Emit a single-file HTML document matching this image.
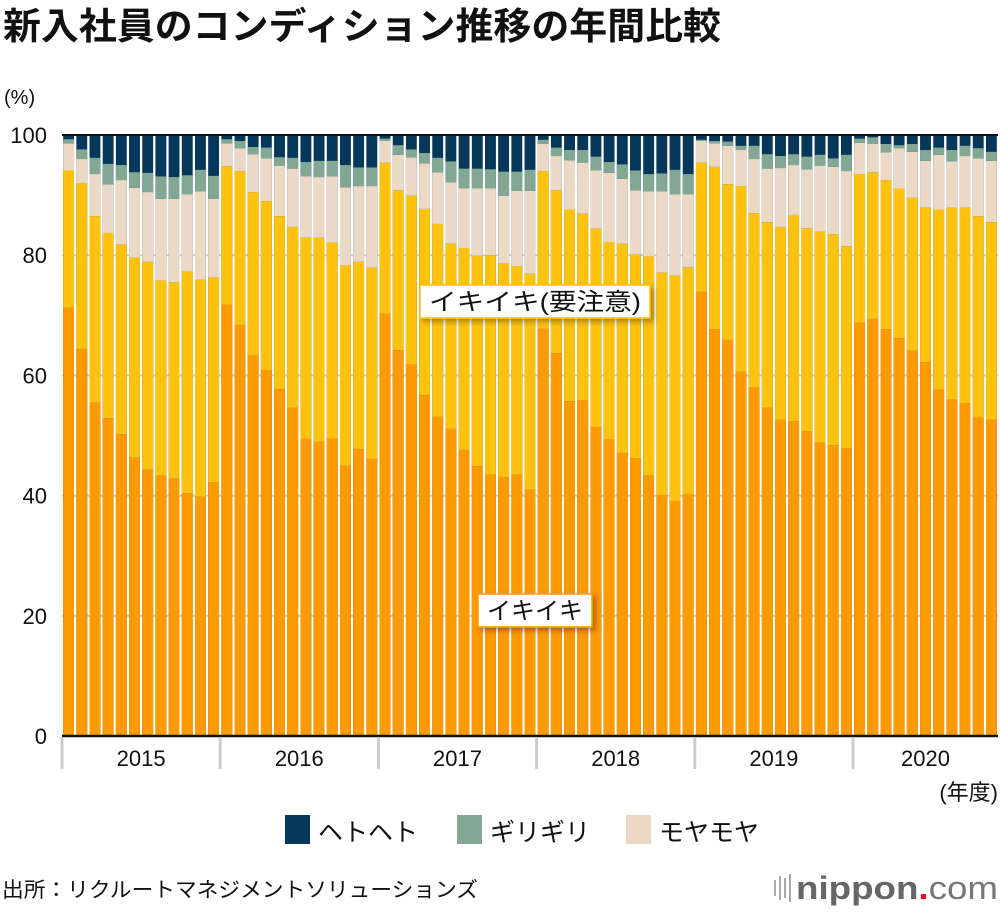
<!DOCTYPE html>
<html><head><meta charset="utf-8"><style>
body{margin:0;background:#fff;width:1000px;height:910px;overflow:hidden;font-family:"Liberation Sans","Noto Sans CJK JP",sans-serif;}
</style></head><body>
<svg id="chart" width="1000" height="910" xmlns="http://www.w3.org/2000/svg" font-family="'Liberation Sans','Noto Sans CJK JP',sans-serif">
<defs><filter id="sh" x="-20%" y="-40%" width="140%" height="180%"><feDropShadow dx="3" dy="3" stdDeviation="3" flood-color="#000" flood-opacity="0.35"/></filter></defs>
<text x="3" y="39" font-size="37" font-weight="bold" fill="#111" textLength="718" lengthAdjust="spacingAndGlyphs">新入社員のコンディション推移の年間比較</text>
<text x="4" y="104" font-size="20" fill="#111">(%)</text>
<g id="grid"></g><g id="bars"></g><g id="axes"></g>
<g>
<rect x="420" y="285" width="230" height="33" fill="#fff" stroke="#FFC20E" stroke-width="1.5" filter="url(#sh)"/>
<text x="535" y="310" font-size="24" text-anchor="middle" fill="#111" textLength="212" lengthAdjust="spacingAndGlyphs">イキイキ(要注意)</text></g>
<g>
<rect x="478" y="594" width="114" height="33" fill="#fff" stroke="#FF9A00" stroke-width="1.5" filter="url(#sh)"/>
<text x="535" y="619" font-size="24" text-anchor="middle" fill="#111">イキイキ</text></g>
<text x="998" y="800" font-size="22" text-anchor="end" fill="#111">(年度)</text>
<g>
<rect x="285" y="815" width="25" height="29" fill="#05375A"/>
<text x="318" y="841" font-size="25" fill="#111">ヘトヘト</text>
<rect x="457" y="815" width="25" height="29" fill="#82A894"/>
<text x="490" y="841" font-size="25" fill="#111">ギリギリ</text>
<rect x="626" y="815" width="25" height="29" fill="#EBD9C6"/>
<text x="659" y="841" font-size="25" fill="#111">モヤモヤ</text>
</g>
<text x="2" y="897" font-size="21" fill="#111" textLength="476" lengthAdjust="spacingAndGlyphs">出所：リクルートマネジメントソリューションズ</text>
<g>
<g fill="#aaa"><rect x="774" y="880" width="2" height="16"/><rect x="779" y="876" width="2" height="24"/><rect x="784" y="878" width="2" height="20"/><rect x="789" y="874" width="2" height="28"/></g>
<text x="796" y="899" font-size="32" fill="#666" font-weight="bold" textLength="202" lengthAdjust="spacingAndGlyphs">nippon<tspan fill="#e60012">.</tspan><tspan font-weight="normal" fill="#777">com</tspan></text></g>
</svg>
<script>
const years=["2015","2016","2017","2018","2019","2020"];
const barsPerYear=[12,12,12,12,12,11];
const ikiiki=[71.3,64.4,55.5,52.9,50.2,46.3,44.3,43.3,42.8,40.4,39.8,42.2, 71.8,68.4,63.4,60.9,57.7,54.6,49.5,49.0,49.5,45.0,47.7,46.1, 70.3,64.2,61.8,56.7,53.1,51.1,47.6,44.9,43.5,43.1,43.5,41.0, 67.8,63.7,55.7,55.9,51.4,49.3,47.1,46.2,43.3,40.1,39.1,40.2, 73.9,67.7,65.9,60.6,58.0,54.6,52.6,52.4,50.7,48.8,48.4,47.8, 68.8,69.4,67.7,66.2,64.1,62.2,57.6,56.0,55.4,53.0,52.6];
const caution=[22.8,27.6,31.0,30.8,31.6,33.3,34.6,32.5,32.7,36.9,36.1,34.1, 23.0,25.6,27.1,28.1,28.8,30.1,33.4,33.9,32.6,33.3,31.2,31.8, 25.1,26.6,28.1,31.0,32.1,30.8,33.6,35.0,36.5,35.6,34.7,35.9, 26.2,27.1,31.9,31.0,33.0,32.9,34.8,33.9,36.5,37.0,37.5,37.8, 21.5,27.0,25.9,30.9,29.0,30.9,32.1,34.3,33.8,35.1,35.1,33.7, 24.7,24.4,24.8,24.9,25.5,25.7,30.0,31.9,32.5,33.5,32.9];
const moyamoya=[4.5,4.0,7.0,8.1,10.7,11.6,11.6,13.6,13.9,12.8,14.7,13.1, 3.8,3.8,6.3,7.1,8.4,9.7,10.2,10.1,11.0,13.0,12.6,13.6, 3.6,5.9,6.4,7.6,8.6,10.2,9.9,11.2,11.1,11.2,12.5,13.8, 4.5,5.7,8.2,8.5,9.7,11.5,10.8,10.7,10.8,13.5,13.5,12.1, 3.6,3.9,6.4,6.0,9.0,8.9,9.8,8.3,9.8,11.0,11.2,12.5, 5.2,4.7,4.6,6.7,7.6,7.8,9.1,7.7,8.6,9.6,10.2];
const girigiri=[0.7,1.6,2.7,3.4,2.5,2.6,3.2,3.7,3.6,3.2,3.6,3.8, 0.7,1.2,1.2,1.8,1.4,1.8,2.4,2.7,2.6,3.7,3.1,3.1, 0.4,1.6,1.3,1.7,2.4,3.5,3.3,3.3,3.2,4.0,3.2,3.5, 0.7,1.4,1.7,2.1,2.3,1.8,2.4,3.3,2.9,3.0,4.1,3.4, 0.2,0.4,0.7,0.7,2.2,2.4,2.0,1.8,2.1,1.8,1.4,2.7, 0.7,1.1,1.4,0.5,1.3,1.8,1.2,1.9,1.7,1.7,1.5];
const yTicks=[0,20,40,60,80,100];
const X0=62,X1=998,Y0=736,Y100=135;
const n=ikiiki.length, pitch=(X1-X0)/n;
const y=v=>Y0-(Y0-Y100)*v/100;
const xb=i=>X0+i*pitch;
const NS="http://www.w3.org/2000/svg";
function mk(t,a,p){const e=document.createElementNS(NS,t);for(const k in a)e.setAttribute(k,a[k]);p.appendChild(e);return e;}
const grid=document.getElementById('grid'),bars=document.getElementById('bars'),axes=document.getElementById('axes');
yTicks.forEach(v=>{
  const l=mk('line',{x1:X0,x2:X1,y1:y(v),y2:y(v),stroke:'#ccc','stroke-width':2},grid);
  
  
  const t=mk('text',{x:47,y:y(v)+8,'font-size':22,'text-anchor':'end',fill:'#111'},axes);
  t.textContent=v;
  
  
});
const series=[["ikiiki",ikiiki,"#FF9A00"],["caution",caution,"#FFC20E"],["moyamoya",moyamoya,"#EBD9C6"],["girigiri",girigiri,"#82A894"]];
for(let i=0;i<n;i++){
  let cum=0;const bw=pitch-2.3,x=xb(i)+1.15;
  const top=mk('rect',{x:x,y:y(100),width:bw,height:y(0)-y(100),fill:'#05375A'},bars);
  
  
  series.forEach(([nm,arr,c])=>{
    const v=arr[i];
    const r=mk('rect',{x:x,y:y(cum+v),width:bw,height:y(cum)-y(cum+v),fill:c},bars);
    
    
    cum+=v;
  });
}
const tl=mk('line',{x1:X0,x2:X1,y1:Y100,y2:Y100,stroke:'#111','stroke-width':2},axes);


const bl=mk('line',{x1:X0,x2:X1,y1:Y0,y2:Y0,stroke:'#111','stroke-width':2.5},axes);


let idx=0;
years.forEach((yr,k)=>{
  const s=xb(idx),e=xb(idx+barsPerYear[k]);
  const tk=mk('line',{x1:s,x2:s,y1:Y0+1,y2:Y0+33,stroke:'#ccc','stroke-width':3},axes);
  
  
  const t=mk('text',{x:(s+e)/2,y:766,'font-size':22,'text-anchor':'middle',fill:'#111'},axes);
  t.textContent=yr;
  
  
  idx+=barsPerYear[k];
});
</script>
</body></html>
